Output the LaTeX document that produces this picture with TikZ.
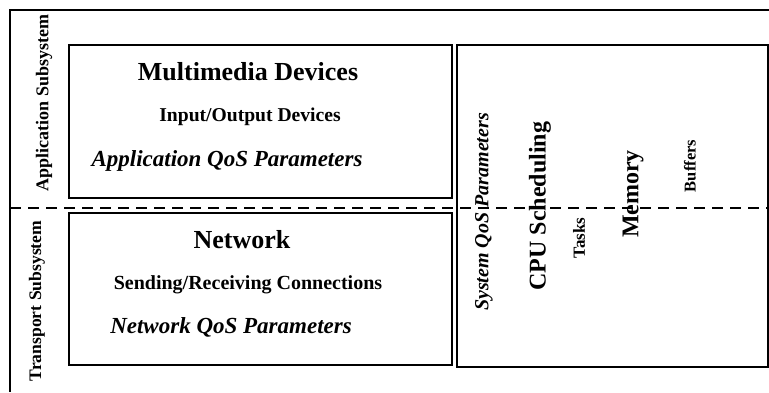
\documentclass[tikz,border=0pt]{standalone}
\usepackage{fontspec}
\setmainfont{Liberation Serif}
\begin{document}
\begin{tikzpicture}[x=1pt,y=-1pt,
  frame/.style={line width=2pt},
  box/.style={draw,line width=2.4pt,inner sep=0pt,outer sep=0pt},
  lbl/.style={inner sep=0pt,font=\bfseries},
  divider/.style={line width=2pt,dash pattern=on 11pt off 7pt}]
\useasboundingbox (0,0) rectangle (769,392);
\coordinate (tr) at (769,10);
\coordinate (tl) at (10,10);
\coordinate (bl) at (10,392);
\draw[frame] (tr) -- (tl) -- (bl);
\node[box,minimum width=383pt,minimum height=153pt] (mmbox) at (260.5,121.5) {};
\node[box,minimum width=383pt,minimum height=152pt] (netbox) at (260.5,289) {};
\node[box,minimum width=311pt,minimum height=322pt] (sysbox) at (612.5,206) {};
\node[lbl,rotate=90,font=\fontsize{18}{18}\selectfont\bfseries] (appsub) at (44,103) {Application Subsystem};
\node[lbl,rotate=90,font=\fontsize{17.6}{18}\selectfont\bfseries] (trsub) at (37,301) {Transport Subsystem};
\node[lbl,font=\fontsize{26}{26}\selectfont\bfseries] (mm) at (248,72) {Multimedia Devices};
\node[lbl,font=\fontsize{19.6}{20}\selectfont\bfseries] (io) at (250,117) {Input/Output Devices};
\node[lbl,font=\fontsize{23}{23}\selectfont\bfseries\itshape] (appqos) at (227,161) {Application QoS Parameters};
\node[lbl,font=\fontsize{26}{26}\selectfont\bfseries] (net) at (242,240) {Network};
\node[lbl,font=\fontsize{20}{20}\selectfont\bfseries] (sr) at (248,285) {Sending/Receiving Connections};
\node[lbl,font=\fontsize{23}{23}\selectfont\bfseries\itshape] (netqos) at (231,327) {Network QoS Parameters};
\node[lbl,rotate=90,font=\fontsize{20}{20}\selectfont\bfseries\itshape] (sysqos) at (484,212) {System QoS Parameters};
\node[lbl,rotate=90,font=\fontsize{24}{24}\selectfont\bfseries] (cpu) at (540,206) {CPU Scheduling};
\node[lbl,rotate=90,font=\fontsize{17}{17}\selectfont\bfseries] (tasks) at (579,238) {Tasks};
\node[lbl,rotate=90,font=\fontsize{24}{24}\selectfont\bfseries] (mem) at (633,194) {Memory};
\node[lbl,rotate=90,font=\fontsize{16.5}{17}\selectfont\bfseries] (buf) at (690,166) {Buffers};
\coordinate (dl) at (10,208);
\coordinate (dr) at (769,208);
\draw[divider] (dl) -- (dr);
\end{tikzpicture}
\end{document}
